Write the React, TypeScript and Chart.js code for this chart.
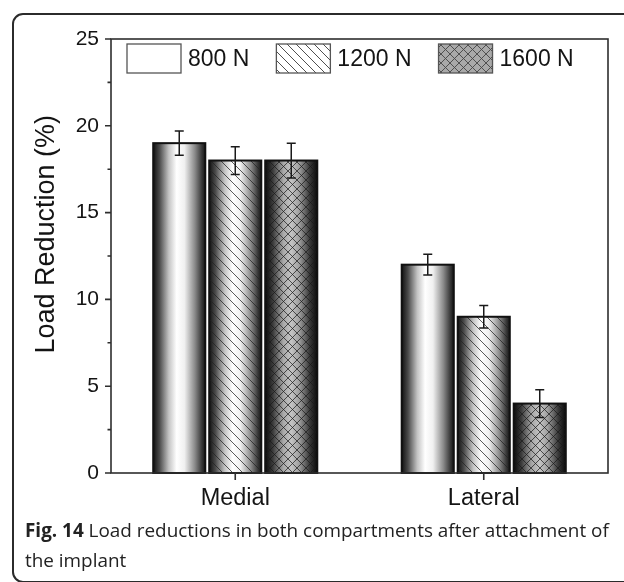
import React, { useEffect, useRef } from "react";
import { Chart, registerables } from "chart.js";

Chart.register(...registerables);

// Load reduction per compartment for each applied load
const categories = ["Medial", "Lateral"];
const seriesLabels = ["800 N", "1200 N", "1600 N"];
const load800 = [19.0, 12.0];
const load1200 = [18.0, 9.0];
const load1600 = [18.0, 4.0];
const err800 = [0.7, 0.6];
const err1200 = [0.8, 0.65];
const err1600 = [1.0, 0.8];
const yMin = 0;
const yMax = 25;
const yStep = 5;
const yTitle = "Load Reduction (%)";

const errors = [err800, err1200, err1600];
const FONT = "'Liberation Sans', Arial, sans-serif";

type Fill = "plain" | "hatch" | "cross";
const fills: Fill[] = ["plain", "hatch", "cross"];

function makePattern(ctx: CanvasRenderingContext2D, size: number, color: string, cross: boolean, bg?: string) {
  const c = document.createElement("canvas");
  c.width = size;
  c.height = size;
  const g = c.getContext("2d")!;
  if (bg) {
    g.fillStyle = bg;
    g.fillRect(0, 0, size, size);
  }
  g.strokeStyle = color;
  g.lineWidth = 1;
  g.beginPath();
  // "\" strokes
  g.moveTo(-1, -1);
  g.lineTo(size + 1, size + 1);
  g.moveTo(-1, size - 1);
  g.lineTo(1, size + 1);
  g.moveTo(size - 1, -1);
  g.lineTo(size + 1, 1);
  if (cross) {
    // "/" strokes
    g.moveTo(size + 1, -1);
    g.lineTo(-1, size + 1);
    g.moveTo(1, -1);
    g.lineTo(-1, 1);
    g.moveTo(size + 1, size - 1);
    g.lineTo(size - 1, size + 1);
  }
  g.stroke();
  return ctx.createPattern(c, "repeat")!;
}

function cylinderGradient(ctx: CanvasRenderingContext2D, left: number, width: number, dark: boolean) {
  const gr = ctx.createLinearGradient(left, 0, left + width, 0);
  if (dark) {
    gr.addColorStop(0, "#0a0a0a");
    gr.addColorStop(0.15, "#3c3c3c");
    gr.addColorStop(0.35, "#a8a8a8");
    gr.addColorStop(0.5, "#c4c4c4");
    gr.addColorStop(0.65, "#a0a0a0");
    gr.addColorStop(0.85, "#3a3a3a");
    gr.addColorStop(1, "#0a0a0a");
  } else {
    gr.addColorStop(0, "#111111");
    gr.addColorStop(0.12, "#4a4a4a");
    gr.addColorStop(0.3, "#c4c4c4");
    gr.addColorStop(0.45, "#ffffff");
    gr.addColorStop(0.6, "#f0f0f0");
    gr.addColorStop(0.8, "#8a8a8a");
    gr.addColorStop(0.93, "#3a3a3a");
    gr.addColorStop(1, "#151515");
  }
  return gr;
}

// Paints the shaded, patterned bars, error bars, frame, ticks, axis title and legend
const decorPlugin = {
  id: "decor",
  afterDatasetsDraw(chart: any) {
    const ctx: CanvasRenderingContext2D = chart.ctx;
    const area = chart.chartArea;
    const yScale = chart.scales.y;
    const xScale = chart.scales.x;
    const hatch = makePattern(ctx, 10, "rgba(35,35,35,0.75)", false);
    const cross = makePattern(ctx, 9, "rgba(25,25,25,0.7)", true);

    ctx.save();
    chart.data.datasets.forEach((ds: any, i: number) => {
      const meta = chart.getDatasetMeta(i);
      meta.data.forEach((el: any, j: number) => {
        const { x, y, base, width } = el.getProps(["x", "y", "base", "width"], true);
        const left = x - width / 2;
        const top = Math.min(y, base);
        const h = Math.abs(base - y);
        const kind = fills[i];
        ctx.fillStyle = cylinderGradient(ctx, left, width, kind === "cross");
        ctx.fillRect(left, top, width, h);
        if (kind !== "plain") {
          ctx.fillStyle = kind === "hatch" ? hatch : cross;
          ctx.fillRect(left, top, width, h);
        }
        ctx.strokeStyle = "#111";
        ctx.lineWidth = 2;
        ctx.strokeRect(left, top, width, h);

        // error bar
        const v = ds.data[j];
        const e = errors[i][j];
        const yHi = yScale.getPixelForValue(v + e);
        const yLo = yScale.getPixelForValue(v - e);
        ctx.strokeStyle = "#1a1a1a";
        ctx.lineWidth = 1.5;
        ctx.beginPath();
        ctx.moveTo(x, yHi);
        ctx.lineTo(x, yLo);
        ctx.moveTo(x - 4.5, yHi);
        ctx.lineTo(x + 4.5, yHi);
        ctx.moveTo(x - 4.5, yLo);
        ctx.lineTo(x + 4.5, yLo);
        ctx.stroke();
      });
    });

    // frame
    ctx.strokeStyle = "#2e2e2e";
    ctx.lineWidth = 1.6;
    ctx.strokeRect(area.left, area.top, area.right - area.left, area.bottom - area.top);

    // y ticks, major and minor
    ctx.beginPath();
    for (let v = yMin; v <= yMax + 1e-9; v += yStep / 2) {
      const py = yScale.getPixelForValue(v);
      const major = Math.abs(v / yStep - Math.round(v / yStep)) < 1e-6;
      ctx.moveTo(area.left - (major ? 6 : 3.5), py);
      ctx.lineTo(area.left, py);
    }
    // x ticks at category centres
    categories.forEach((_, k) => {
      const px = xScale.getPixelForValue(k);
      ctx.moveTo(px, area.bottom);
      ctx.lineTo(px, area.bottom + 7);
    });
    ctx.stroke();

    // rotated y-axis title, set a little above the axis midpoint
    ctx.save();
    ctx.translate(47, area.top + (area.bottom - area.top) * 0.45);
    ctx.rotate(-Math.PI / 2);
    ctx.font = `27px ${FONT}`;
    ctx.fillStyle = "#141414";
    ctx.textAlign = "center";
    ctx.textBaseline = "middle";
    ctx.fillText(yTitle, 0, 0);
    ctx.restore();

    // legend inside the plot
    ctx.font = `23px ${FONT}`;
    ctx.textBaseline = "middle";
    ctx.textAlign = "left";
    const boxW = 54;
    const boxH = 29;
    const boxTop = area.top + 5;
    let lx = area.left + 16;
    const legendFills = [
      null,
      makePattern(ctx, 9, "rgba(60,60,60,0.9)", false, "#ffffff"),
      makePattern(ctx, 9, "rgba(70,70,70,0.9)", true, "#a9a9a9"),
    ];
    seriesLabels.forEach((label, i) => {
      ctx.fillStyle = "#ffffff";
      ctx.fillRect(lx, boxTop, boxW, boxH);
      const pf = legendFills[i];
      if (pf) {
        ctx.fillStyle = pf;
        ctx.fillRect(lx, boxTop, boxW, boxH);
      }
      ctx.strokeStyle = "#555";
      ctx.lineWidth = 1.3;
      ctx.strokeRect(lx, boxTop, boxW, boxH);
      ctx.fillStyle = "#141414";
      const tx = lx + boxW + 7;
      ctx.fillText(label, tx, boxTop + boxH / 2 + 1);
      lx = tx + ctx.measureText(label).width + 27;
    });
    ctx.restore();
  },
};

function BarChart() {
  const ref = useRef<HTMLCanvasElement | null>(null);
  useEffect(() => {
    if (!ref.current) return;
    const seriesData = [load800, load1200, load1600];
    const chart = new Chart(ref.current, {
      type: "bar",
      data: {
        labels: categories,
        datasets: seriesLabels.map((label, i) => ({
          label,
          data: seriesData[i],
          backgroundColor: "rgba(0,0,0,0)",
          borderWidth: 0,
          categoryPercentage: 0.676,
          barPercentage: 0.93,
        })),
      },
      options: {
        responsive: false,
        animation: false,
        layout: { padding: { left: 0, right: 16, top: 39, bottom: 0 } },
        plugins: { legend: { display: false }, tooltip: { enabled: false } },
        scales: {
          x: {
            grid: { display: false, drawTicks: false },
            border: { display: false },
            ticks: { color: "#141414", font: { family: FONT, size: 23.5 }, padding: 11 },
            afterFit(scale: any) {
              scale.height = 47;
            },
          },
          y: {
            min: yMin,
            max: yMax,
            grid: { display: false, drawTicks: false },
            border: { display: false },
            ticks: { stepSize: yStep, color: "#141414", font: { family: FONT, size: 21 }, padding: 12 },
            afterFit(scale: any) {
              scale.width = 111;
            },
          },
        },
      },
      plugins: [decorPlugin],
    });
    return () => chart.destroy();
  }, []);
  return (
    <canvas
      ref={ref}
      width={624}
      height={520}
      style={{ position: "absolute", left: 0, top: 0, width: 624, height: 520 }}
    />
  );
}

export default function App() {
  return (
    <div
      style={{
        position: "absolute",
        left: 0,
        top: 0,
        width: 624,
        height: 582,
        overflow: "hidden",
        background: "#ffffff",
      }}
    >
      <div
        style={{
          position: "absolute",
          left: 12,
          top: 13,
          width: 640,
          height: 566,
          border: "2px solid #2b2b2b",
          borderRadius: 11,
        }}
      />
      <BarChart />
      <div
        style={{
          position: "absolute",
          left: 25,
          top: 515,
          width: 600,
          fontFamily: "'Open Sans', 'Noto Sans', sans-serif",
          fontSize: 18.9,
          lineHeight: "30px",
          color: "#222",
          whiteSpace: "nowrap",
        }}
      >
        <div>
          <b>Fig. 14</b> Load reductions in both compartments after attachment of
        </div>
        <div>the implant</div>
      </div>
    </div>
  );
}
